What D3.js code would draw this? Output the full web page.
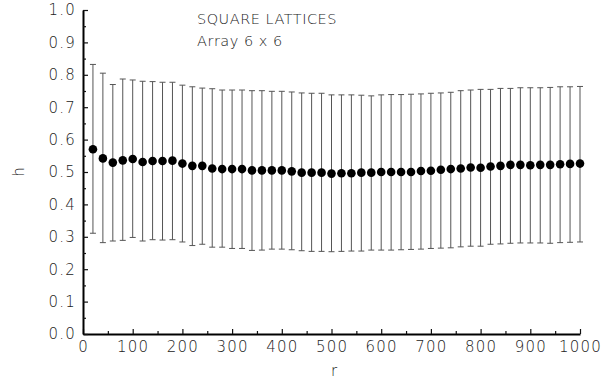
<!DOCTYPE html>
<html>
<head>
<meta charset="utf-8">
<script src="https://cdn.jsdelivr.net/npm/d3@7"></script>
<style>
  body { margin: 0; background: #fff; }
  svg text { font-family: "DejaVu Sans", sans-serif; font-weight: 200; fill: #222; }
</style>
</head>
<body>
<div id="chart"></div>
<script>
// r values of the samples
const rValues = d3.range(20, 1001, 20);

// mean h at each r
const hMean = [
    0.570, 0.542, 0.529, 0.536, 0.540, 0.531, 0.534, 0.534, 0.535, 0.526,
    0.519, 0.519, 0.511, 0.509, 0.509, 0.509, 0.505, 0.505, 0.505, 0.505,
    0.502, 0.498, 0.498, 0.498, 0.495, 0.496, 0.496, 0.498, 0.498, 0.500,
    0.500, 0.500, 0.500, 0.503, 0.504, 0.507, 0.509, 0.511, 0.514, 0.513,
    0.517, 0.519, 0.522, 0.522, 0.521, 0.522, 0.522, 0.524, 0.525, 0.526
];

// upper end of the error bars
const hHigh = [
    0.832, 0.805, 0.770, 0.787, 0.784, 0.780, 0.779, 0.777, 0.777, 0.768,
    0.763, 0.759, 0.757, 0.753, 0.753, 0.753, 0.751, 0.751, 0.749, 0.749,
    0.747, 0.744, 0.743, 0.743, 0.738, 0.738, 0.738, 0.737, 0.735, 0.738,
    0.739, 0.739, 0.740, 0.741, 0.743, 0.744, 0.746, 0.751, 0.753, 0.755,
    0.755, 0.758, 0.758, 0.760, 0.760, 0.760, 0.761, 0.763, 0.763, 0.764
];

// lower end of the error bars
const hLow = [
    0.311, 0.282, 0.287, 0.289, 0.298, 0.287, 0.291, 0.290, 0.291, 0.284,
    0.273, 0.277, 0.268, 0.268, 0.264, 0.264, 0.258, 0.259, 0.262, 0.262,
    0.260, 0.257, 0.255, 0.255, 0.254, 0.255, 0.256, 0.256, 0.259, 0.259,
    0.259, 0.260, 0.261, 0.262, 0.264, 0.265, 0.266, 0.269, 0.271, 0.271,
    0.277, 0.278, 0.280, 0.281, 0.281, 0.281, 0.280, 0.282, 0.283, 0.284
];

const xTicks = d3.range(0, 1001, 100);
const xMinorTicks = d3.range(50, 1000, 100);
const yTicks = d3.range(0, 11).map(i => i / 10);
const yMinorTicks = d3.range(0, 10).map(i => i / 10 + 0.05);

const width = 613, height = 381;
const margin = { left: 83, right: 33, top: 10, bottom: 47 };

const points = rValues.map((r, i) => ({ r: r, h: hMean[i], hi: hHigh[i], lo: hLow[i] }));

const svg = d3.select("#chart")
    .append("svg")
    .attr("width", width)
    .attr("height", height);

const x = d3.scaleLinear()
    .domain([0, 1000])
    .range([margin.left, width - margin.right]);

const y = d3.scaleLinear()
    .domain([0, 1])
    .range([height - margin.bottom, margin.top]);

// error bars
const bars = svg.append("g")
    .attr("stroke", "#555")
    .attr("stroke-width", 1);

bars.selectAll(".bar")
    .data(points)
    .join("line")
    .attr("class", "bar")
    .attr("x1", d => x(d.r))
    .attr("x2", d => x(d.r))
    .attr("y1", d => y(d.lo))
    .attr("y2", d => y(d.hi));

bars.selectAll(".cap-hi")
    .data(points)
    .join("line")
    .attr("class", "cap-hi")
    .attr("x1", d => x(d.r) - 3)
    .attr("x2", d => x(d.r) + 3)
    .attr("y1", d => y(d.hi))
    .attr("y2", d => y(d.hi));

bars.selectAll(".cap-lo")
    .data(points)
    .join("line")
    .attr("class", "cap-lo")
    .attr("x1", d => x(d.r) - 3)
    .attr("x2", d => x(d.r) + 3)
    .attr("y1", d => y(d.lo))
    .attr("y2", d => y(d.lo));

// mean points
svg.append("g")
    .selectAll("circle")
    .data(points)
    .join("circle")
    .attr("cx", d => x(d.r))
    .attr("cy", d => y(d.h))
    .attr("r", 4.3)
    .attr("fill", "#000");

// axes, ticks drawn inside the plot
const xAxis = svg.append("g")
    .attr("transform", `translate(0,${y(0)})`)
    .call(d3.axisBottom(x).tickValues(xTicks).tickSize(-5).tickPadding(7)
        .tickFormat(d3.format("d")).tickSizeOuter(0));

svg.append("g")
    .attr("transform", `translate(0,${y(0)})`)
    .call(d3.axisBottom(x).tickValues(xMinorTicks).tickSize(-3).tickFormat("").tickSizeOuter(0))
    .call(g => g.select(".domain").remove());

const yAxis = svg.append("g")
    .attr("transform", `translate(${x(0)},0)`)
    .call(d3.axisLeft(y).tickValues(yTicks).tickSize(-5).tickPadding(7)
        .tickFormat(d3.format(".1f")).tickSizeOuter(0));

svg.append("g")
    .attr("transform", `translate(${x(0)},0)`)
    .call(d3.axisLeft(y).tickValues(yMinorTicks).tickSize(-3).tickFormat("").tickSizeOuter(0))
    .call(g => g.select(".domain").remove());

[xAxis, yAxis].forEach(a => {
    a.select(".domain").attr("stroke", "#000").attr("stroke-width", 2);
    a.selectAll("text")
        .attr("font-size", 15)
        .attr("letter-spacing", 1.2)
        .attr("font-family", null)
        .attr("fill", "#222");
});
svg.selectAll(".tick line").attr("stroke", "#111").attr("stroke-width", 1.2);

// axis titles
svg.append("text")
    .attr("transform", `translate(24,${y(0.5)}) rotate(-90)`)
    .attr("text-anchor", "middle")
    .attr("font-size", 15)
    .text("h");

svg.append("text")
    .attr("x", x(505))
    .attr("y", 376)
    .attr("text-anchor", "middle")
    .attr("font-size", 15)
    .text("r");

// annotation
svg.append("text")
    .attr("x", 197)
    .attr("y", 24)
    .attr("font-size", 14.5)
    .attr("letter-spacing", 0.5)
    .text("SQUARE LATTICES");

svg.append("text")
    .attr("x", 197)
    .attr("y", 46)
    .attr("font-size", 14.5)
    .attr("letter-spacing", 0.5)
    .text("Array 6 x 6");
</script>
</body>
</html>
